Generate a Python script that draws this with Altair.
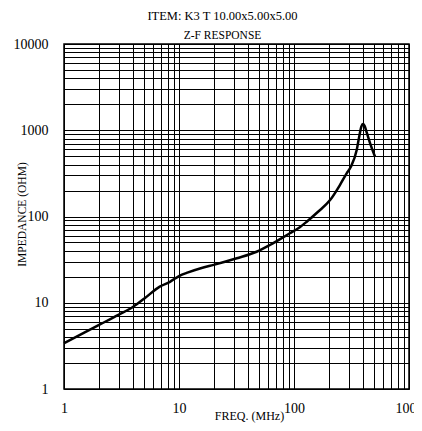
import altair as alt
import pandas as pd

freq = [1, 1.5, 2, 3, 4, 5, 6.8, 8.35, 10, 12, 16, 20, 31.8, 47.3, 61.8, 92, 109, 129, 160, 206, 250, 287, 313, 351, 370, 385, 398, 410, 430, 460, 506]
imp = [3.4, 4.5, 5.5, 7.3, 9.0, 11.2, 15.4, 17.5, 20.4, 22.5, 25.5, 27.5, 32.8, 39, 46.7, 63.9, 73, 87, 112, 155, 230, 317, 380, 590, 860, 1100, 1180, 1130, 930, 700, 495]

x_grid = [m * 10 ** e for e in range(0, 3) for m in range(1, 10)] + [1000]
y_grid = [m * 10 ** e for e in range(0, 4) for m in range(1, 10)] + [10000]

df = pd.DataFrame({"f": freq, "z": imp})

FONT = "Liberation Serif"

chart = alt.Chart(df).mark_line(color="black", strokeWidth=2.5, interpolate="monotone").encode(
    x=alt.X("f:Q", scale=alt.Scale(type="log", domain=[1, 1000], nice=False),
            axis=alt.Axis(values=x_grid, format="d",
                          labelExpr="indexof(['1','10','100','1000'], datum.label) >= 0 ? datum.label : ''",
                          ticks=False, domain=False, grid=True, gridColor="black", gridWidth=1,
                          labelFont=FONT, labelFontSize=14, labelColor="black", labelPadding=12,
                          labelFlush=False, labelOverlap=False,
                          title="FREQ. (MHz)", titleFont=FONT, titleFontSize=12, titleFontWeight="normal",
                          titleColor="black", titleX=185, titleY=30, titleAlign="center",
                          titleBaseline="alphabetic")),
    y=alt.Y("z:Q", scale=alt.Scale(type="log", domain=[1, 10000], nice=False),
            axis=alt.Axis(values=y_grid, format="d",
                          labelExpr="indexof(['1','10','100','1000','10000'], datum.label) >= 0 ? datum.label : ''",
                          ticks=False, domain=False, grid=True, gridColor="black", gridWidth=1,
                          labelFont=FONT, labelFontSize=14, labelColor="black", labelPadding=16,
                          labelFlush=False, labelOverlap=False,
                          title="IMPEDANCE (OHM)", titleFont=FONT, titleFontSize=11.5, titleFontWeight="normal",
                          titleColor="black", titleX=-42, titleY=170, titleAngle=270,
                          titleAlign="center", titleBaseline="middle")),
).properties(
    width=345, height=345,
    title=alt.TitleParams(text="ITEM: K3 T 10.00x5.00x5.00", subtitle="Z-F RESPONSE",
                          font=FONT, fontSize=12.5, fontWeight="normal", color="black",
                          subtitleFont=FONT, subtitleFontSize=11.5, subtitleColor="black",
                          subtitlePadding=7, anchor="middle", dx=-14, offset=-4),
    autosize=alt.AutoSizeParams(type="none"),
    padding={"left": 56, "top": 36, "right": 5, "bottom": 34},
).configure_view(stroke="black", strokeWidth=1.5)

chart.save("out.html", embed_options={"renderer": "svg", "actions": False})
